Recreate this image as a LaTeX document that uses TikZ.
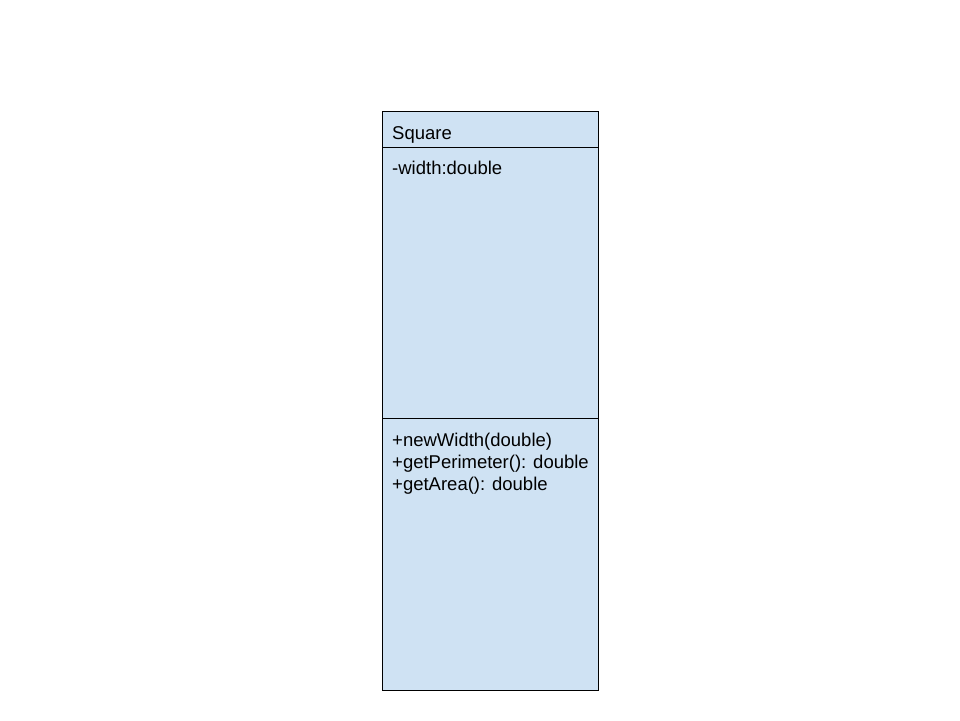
\documentclass[tikz,border=0pt]{standalone}
\usepackage{fontspec}
\setmainfont{Liberation Sans}
\definecolor{umlfill}{HTML}{CFE2F3}
\begin{document}
\begin{tikzpicture}[x=1pt,y=-1pt,
  lbl/.style={anchor=base west,inner sep=0pt,font=\fontsize{18.5}{22}\selectfont},
  part/.style={draw=black,fill=umlfill,line width=0.9pt}]
\useasboundingbox (0,0) rectangle (960,720);
\path[part] (382.5,111.5) rectangle (598.5,690.5);
\draw[line width=0.9pt] (382.5,147.5) -- (598.5,147.5);
\draw[line width=0.9pt] (382.5,418.5) -- (598.5,418.5);
\node[lbl] (name) at (392,139) {Square};
\node[lbl] (attr) at (392,174.5) {-width:double};
\node[lbl] (m1) at (392,446) {+newWidth(double)};
\node[lbl] (m2) at (392,468) {+getPerimeter(): double};
\node[lbl] (m3) at (392,490) {+getArea(): double};
\end{tikzpicture}
\end{document}
